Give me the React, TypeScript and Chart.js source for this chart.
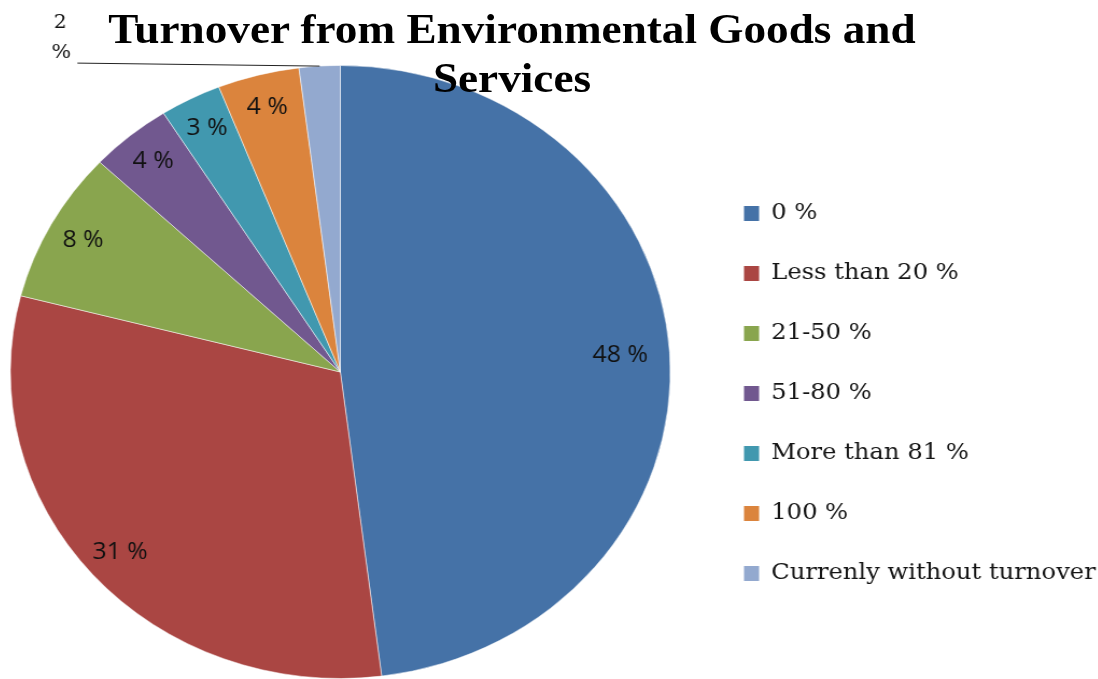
import React, { useEffect, useRef } from 'react';
import { Chart, registerables } from 'chart.js';

Chart.register(...registerables);

// ---- data ----
const categories = [
  '0 %',
  'Less than 20 %',
  '21-50 %',
  '51-80 %',
  'More than 81 %',
  '100 %',
  'Currenly without turnover',
];
const shares = [48, 31, 8, 4, 3, 4, 2];
const sliceColors = ['#4572A7', '#AA4643', '#89A54E', '#71588F', '#4198AF', '#DB843D', '#93A9CF'];
const titleLines = ['Turnover from Environmental Goods and', 'Services'];

// ---- layout constants ----
const STRETCH = 1.0765; // the reference is horizontally stretched
const CANVAS_W = 1060;
const CANVAS_H = 679;
const CANVAS_SHIFT = -22.8;
const LEGEND_LEFT = 675;
const LEGEND_FONT_SIZE = 22.5;
const LEGEND_FONT_FAMILY = '"DejaVu Serif"';
const LEGEND_BOX_W = 14;
const LEGEND_PAD = 37.5;

const sliceLabelPlugin = {
  id: 'sliceLabels',
  afterDatasetsDraw(chart: any) {
    const ctx = chart.ctx;
    const meta = chart.getDatasetMeta(0);
    const data = chart.data.datasets[0].data as number[];
    ctx.save();
    ctx.fillStyle = '#111111';
    ctx.textAlign = 'center';
    ctx.textBaseline = 'middle';
    meta.data.forEach((arc: any, i: number) => {
      const { x, y, startAngle, endAngle, outerRadius } = arc.getProps(
        ['x', 'y', 'startAngle', 'endAngle', 'outerRadius'],
        true
      );
      const mid = (startAngle + endAngle) / 2;
      const v = data[i];
      if (v >= 3) {
        const f = v > 40 ? 0.85 : 0.89;
        ctx.font = '23px "Open Sans"';
        ctx.fillText(`${v} %`, x + Math.cos(mid) * outerRadius * f, y + Math.sin(mid) * outerRadius * f);
      } else {
        const ex = x + Math.cos(mid) * outerRadius;
        const ey = y + Math.sin(mid) * outerRadius;
        const sx = ex - 225;
        const sy = ey - 3;
        ctx.strokeStyle = '#222222';
        ctx.lineWidth = 1;
        ctx.beginPath();
        ctx.moveTo(sx, sy);
        ctx.lineTo(ex, ey);
        ctx.stroke();
        ctx.font = '19px "DejaVu Serif"';
        ctx.fillText(String(v), sx - 16, sy - 40);
        ctx.fillText('%', sx - 15, sy - 10);
      }
    });
    ctx.restore();
  },
};

export default function App() {
  const ref = useRef<HTMLCanvasElement>(null);

  useEffect(() => {
    if (!ref.current) return;
    // measure the widest legend label so the legend box lands where intended
    const mctx = document.createElement('canvas').getContext('2d')!;
    mctx.font = `${LEGEND_FONT_SIZE}px ${LEGEND_FONT_FAMILY}`;
    const textW = Math.max(...categories.map((c) => mctx.measureText(c).width));
    const legendW = LEGEND_PAD + LEGEND_BOX_W + LEGEND_FONT_SIZE / 2 + textW + 10;
    const padRight = Math.max(0, CANVAS_W - LEGEND_LEFT - legendW);

    const chart = new Chart(ref.current, {
      type: 'pie',
      data: {
        labels: categories,
        datasets: [
          {
            data: shares,
            backgroundColor: sliceColors,
            borderColor: 'rgba(255,255,255,0.5)',
            borderWidth: 1,
          },
        ],
      },
      options: {
        responsive: false,
        animation: false,
        devicePixelRatio: 1,
        events: [],
        layout: { padding: { top: 65, bottom: 0, left: 0, right: padRight } },
        plugins: {
          tooltip: { enabled: false },
          title: { display: false },
          legend: {
            position: 'right',
            title: { display: true, text: ' ', padding: 0, font: { size: 43, lineHeight: 1 } },
            labels: {
              boxWidth: LEGEND_BOX_W,
              boxHeight: 15,
              padding: LEGEND_PAD,
              color: '#151515',
              font: { family: LEGEND_FONT_FAMILY, size: LEGEND_FONT_SIZE },
              generateLabels: (c: any) =>
                (Chart as any).overrides.pie.plugins.legend.labels
                  .generateLabels(c)
                  .map((l: any) => ({ ...l, lineWidth: 0 })),
            },
          },
        },
      } as any,
      plugins: [sliceLabelPlugin],
    });
    return () => chart.destroy();
  }, []);

  return (
    <div
      style={{
        position: 'absolute',
        left: 0,
        top: 0,
        width: 1098,
        height: 679,
        overflow: 'hidden',
        background: '#ffffff',
      }}
    >
      <div
        style={{
          position: 'absolute',
          left: CANVAS_SHIFT,
          top: 0,
          width: CANVAS_W,
          height: CANVAS_H,
          transform: `scaleX(${STRETCH})`,
          transformOrigin: '0 0',
        }}
      >
        <canvas
          ref={ref}
          width={CANVAS_W}
          height={CANVAS_H}
          style={{ display: 'block', width: CANVAS_W, height: CANVAS_H }}
        />
      </div>
      <div
        style={{
          position: 'absolute',
          left: 0,
          top: 5,
          width: 1024,
          textAlign: 'center',
          fontFamily: '"Liberation Serif", serif',
          fontWeight: 'bold',
          fontSize: 42,
          lineHeight: '49px',
          whiteSpace: 'nowrap',
          color: '#000000',
          transform: `scaleX(${STRETCH})`,
          transformOrigin: '512px 0',
        }}
      >
        {titleLines.map((l) => (
          <div key={l}>{l}</div>
        ))}
      </div>
    </div>
  );
}
